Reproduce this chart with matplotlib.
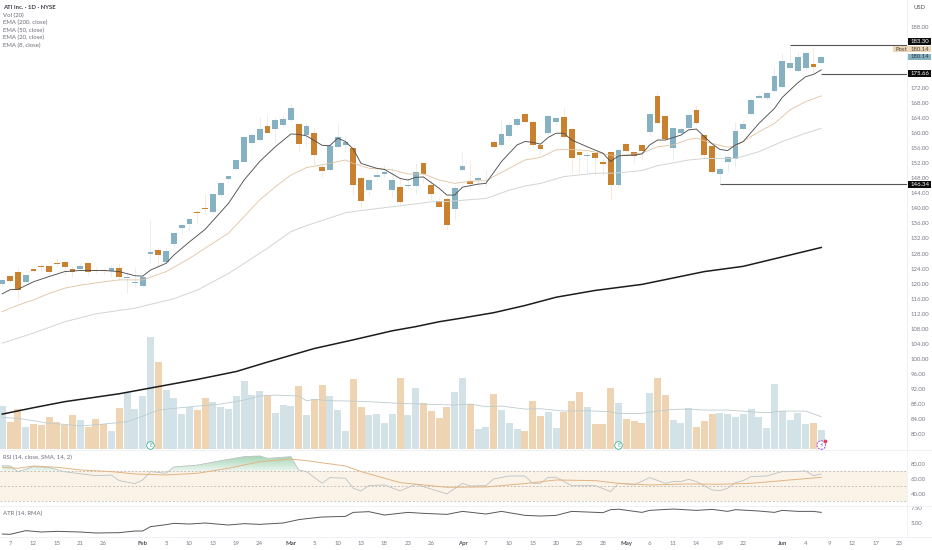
import numpy as np
import matplotlib
matplotlib.use("Agg")
import matplotlib.pyplot as plt
from matplotlib.colors import LinearSegmentedColormap
from matplotlib.patches import Rectangle
from matplotlib.path import Path

W, H = 932, 550

# daily candles
opens = [119.9, 121.9, 123.0, 120.4, 123.9, 124.7, 124.6, 125.6, 125.7, 124.0,
         123.9, 125.6, 123.6, 123.5, 123.4, 124.2, 121.6, 120.3, 119.5, 128.0,
         129.0, 125.8, 130.6, 134.8, 135.9, 139.0, 140.1, 139.1, 143.4, 147.8,
         150.4, 152.4, 157.3, 158.1, 161.7, 161.0, 162.1, 163.3, 162.3, 159.5,
         159.9, 150.9, 150.1, 156.2, 156.9, 156.1, 148.1, 144.8, 148.2, 149.0,
         144.8, 145.7, 145.9, 145.8, 152.0, 146.3, 141.9, 142.4, 139.7, 150.2,
         147.1, 147.4, 147.2, 157.6, 156.8, 159.2, 162.1, 165.0, 162.9, 156.9,
         160.0, 162.9, 164.1, 160.9, 154.9, 153.8, 154.7, 152.4, 155.0, 146.3,
         157.0, 154.8, 156.8, 160.1, 169.8, 164.6, 156.1, 159.9, 161.4, 166.1,
         159.3, 156.5, 149.1, 152.4, 153.0, 161.0, 164.9, 169.3, 169.2, 171.0,
         172.1, 177.3, 176.5, 177.2, 178.3, 178.6]
closes = [120.9, 120.7, 118.4, 122.2, 123.3, 124.3, 123.2, 125.3, 124.3, 123.2,
          124.7, 123.2, 123.4, 123.3, 124.1, 121.8, 121.8, 120.4, 121.8, 128.3,
          127.5, 128.6, 133.5, 135.6, 137.1, 138.8, 139.8, 143.9, 146.7, 148.6,
          152.8, 158.8, 159.3, 161.0, 160.0, 163.5, 163.6, 166.5, 157.0, 161.7,
          154.1, 150.0, 156.6, 159.0, 157.5, 146.1, 141.9, 147.4, 148.7, 149.6,
          147.5, 141.7, 146.3, 149.5, 149.0, 143.9, 140.3, 135.5, 145.4, 151.1,
          146.5, 147.9, 147.3, 156.3, 159.6, 162.2, 163.8, 163.0, 156.9, 155.7,
          164.6, 164.0, 159.0, 153.2, 154.0, 154.2, 153.4, 151.7, 146.2, 155.5,
          155.2, 153.8, 155.3, 165.0, 162.6, 158.3, 161.2, 161.0, 164.7, 162.5,
          154.1, 149.6, 150.4, 153.6, 160.4, 162.4, 168.7, 169.8, 170.5, 175.2,
          179.1, 178.4, 180.0, 181.1, 177.4, 180.1]
highs = [121.3, 122.2, 124.5, 122.4, 124.1, 125.4, 124.9, 127.2, 126.3, 124.7,
         125.4, 125.8, 124.5, 124.1, 124.9, 125.4, 123.2, 124.5, 122.3, 136.9,
         129.8, 129.4, 133.8, 136.0, 137.8, 139.5, 143.9, 144.1, 147.0, 148.8,
         153.0, 159.0, 159.9, 164.3, 164.7, 164.3, 164.7, 167.6, 162.5, 162.5,
         161.6, 151.5, 157.2, 162.5, 159.4, 156.3, 148.8, 147.7, 150.1, 151.5,
         150.6, 148.4, 147.9, 151.9, 152.4, 147.5, 143.1, 143.1, 146.2, 155.0,
         152.8, 148.8, 150.1, 158.1, 163.4, 163.0, 164.3, 165.4, 163.4, 157.7,
         164.9, 164.5, 166.5, 161.2, 155.5, 155.0, 155.0, 153.7, 155.5, 155.6,
         157.7, 155.0, 157.2, 165.6, 170.9, 164.7, 161.5, 161.5, 165.6, 167.4,
         159.4, 156.8, 151.0, 154.1, 163.0, 163.4, 169.2, 170.3, 170.9, 177.6,
         181.1, 183.3, 181.5, 181.5, 182.9, 180.7]
lows = [119.5, 120.4, 115.7, 120.1, 123.0, 123.2, 122.3, 124.5, 122.3, 121.8,
        123.6, 122.3, 122.7, 122.3, 121.8, 121.0, 117.4, 119.2, 119.2, 125.4,
        124.5, 125.4, 129.8, 133.3, 133.8, 136.0, 138.6, 138.6, 143.1, 147.0,
        150.1, 152.3, 156.8, 157.7, 159.9, 157.7, 161.6, 163.0, 155.0, 156.3,
        151.5, 148.4, 150.0, 155.9, 155.0, 143.5, 140.0, 143.5, 147.5, 148.4,
        143.1, 140.9, 145.3, 143.9, 146.6, 142.2, 140.0, 134.2, 136.9, 149.7,
        144.8, 145.7, 145.7, 155.9, 156.3, 158.5, 161.6, 162.5, 156.3, 154.4,
        159.4, 162.1, 158.5, 149.3, 149.3, 149.3, 148.8, 148.8, 142.2, 145.7,
        155.0, 151.9, 152.8, 159.4, 162.4, 157.7, 152.8, 159.0, 160.8, 162.1,
        152.8, 149.3, 146.2, 149.7, 151.0, 160.8, 164.7, 169.2, 168.7, 170.7,
        171.8, 176.7, 176.2, 176.7, 175.8, 178.4]
volumes = [1.30, 0.81, 1.20, 0.68, 0.76, 0.73, 0.97, 0.83, 0.73, 1.04,
           0.88, 0.66, 0.90, 0.77, 0.55, 1.23, 1.70, 1.22, 1.60, 3.36,
           2.61, 1.78, 1.53, 1.06, 1.26, 1.18, 1.55, 1.41, 1.27, 1.20,
           1.60, 2.05, 1.63, 1.75, 1.62, 1.09, 1.32, 1.31, 1.90, 1.03,
           1.50, 1.92, 1.59, 1.18, 0.55, 2.10, 1.27, 1.03, 1.06, 0.80,
           1.06, 2.14, 1.03, 1.85, 1.40, 1.16, 0.94, 1.26, 1.73, 2.14,
           1.37, 0.61, 0.66, 1.67, 1.18, 0.79, 0.60, 0.55, 1.44, 0.99,
           1.12, 0.65, 1.12, 1.44, 1.72, 1.26, 0.76, 0.76, 1.83, 1.40,
           0.92, 0.85, 0.79, 1.69, 2.13, 1.63, 0.88, 0.79, 1.23, 0.68,
           0.85, 1.05, 1.09, 1.05, 0.98, 1.06, 1.20, 0.97, 0.65, 1.95,
           1.14, 0.88, 1.08, 0.75, 0.79, 0.58]

# overlays, each as (bar index, value)
ema8_x = [0, 1, 2, 4, 6, 8, 10, 13, 15, 17, 18, 19, 21, 22, 24, 26, 29, 31, 33, 35, 37, 38, 39,
          41, 42, 43, 44, 45, 46, 48, 49, 51, 52, 53, 54, 56, 57, 58, 59, 61, 62, 64, 66, 67,
          68, 69, 70, 71, 72, 73, 75, 77, 78, 79, 81, 82, 83, 84, 85, 87, 88, 89, 90, 91, 92,
          93, 94, 95, 97, 99, 100, 102, 103, 104, 105]
ema8 = [117.3, 118.4, 118.5, 120.5, 121.9, 123.2, 123.5, 123.5, 123.2, 122.1, 122.0, 123.6,
        125.4, 127.6, 131.1, 134.4, 141.3, 147.5, 152.4, 156.3, 159.7, 159.6, 159.2,
        156.7, 156.6, 158.6, 157.7, 155.7, 151.9, 150.6, 150.3, 147.9, 147.5, 148.2, 148.3,
        145.3, 143.5, 143.5, 145.6, 146.4, 146.6, 152.4, 156.8, 157.7, 157.5, 157.0, 158.8,
        159.9, 159.9, 158.1, 156.3, 154.6, 152.4, 153.9, 154.1, 154.4, 156.8, 158.1, 158.1,
        159.4, 160.8, 161.0, 159.0, 157.1, 155.6, 155.3, 156.8, 157.7, 162.5, 166.5, 169.4,
        173.3, 174.9, 175.5, 176.7]
ema20_x = [0, 2, 4, 6, 8, 10, 13, 15, 18, 21, 24, 26, 29, 31, 33, 35, 37, 39, 41, 44, 45, 47,
           50, 52, 54, 56, 58, 60, 62, 65, 67, 69, 71, 73, 75, 78, 79, 82, 84, 86, 88, 89, 91,
           93, 94, 97, 99, 101, 103, 105]
ema20 = [112.6, 114.3, 115.7, 117.4, 118.8, 119.6, 120.5, 121.0, 121.0, 123.2, 126.7, 129.4,
         133.4, 137.8, 142.2, 145.7, 148.8, 150.8, 151.5, 152.8, 151.9, 150.6, 150.2, 149.1,
         149.1, 147.5, 146.6, 147.2, 147.3, 150.6, 152.8, 153.5, 155.5, 155.6, 155.3, 154.1,
         154.0, 154.6, 156.3, 156.8, 158.3, 158.6, 157.2, 156.2, 156.5, 160.3, 162.5, 166.1,
         168.3, 169.8]
ema50_x = [0, 4, 8, 12, 17, 22, 25, 29, 34, 37, 39, 44, 46, 50, 55, 57, 62, 65, 67, 69, 72, 76,
           78, 79, 82, 84, 88, 90, 94, 97, 100, 103, 105]
ema50 = [104.2, 106.9, 109.9, 112.0, 113.5, 116.0, 118.3, 122.7, 129.4, 133.8, 135.4, 138.8,
         139.4, 140.4, 141.7, 141.8, 142.6, 144.8, 145.9, 146.6, 148.4, 149.3, 149.3, 149.4,
         150.0, 151.3, 152.8, 153.2, 153.2, 155.0, 157.7, 159.9, 161.2]
ema200_x = [0, 4, 8, 15, 20, 25, 30, 34, 37, 40, 45, 50, 53, 56, 59, 63, 67, 71, 76, 82, 86, 90,
            95, 100, 105]
ema200 = [85.4, 87.1, 88.7, 90.8, 92.7, 94.6, 96.7, 99.2, 101.0, 102.8, 105.1, 107.5, 108.6,
          109.9, 110.9, 112.3, 114.2, 116.4, 118.2, 119.8, 121.5, 123.2, 124.6, 127.1, 129.6]
vol_ma_x = [0, 2, 4, 6, 8, 10, 13, 16, 18, 20, 22, 25, 28, 31, 33, 35, 38, 39, 40, 42, 45, 47,
            51, 54, 58, 60, 62, 64, 67, 69, 72, 75, 78, 79, 82, 84, 86, 88, 90, 93, 96, 98,
            100, 103, 105]
vol_ma = [0.96, 0.93, 0.86, 0.78, 0.75, 0.70, 0.76, 0.83, 1.00, 1.18, 1.23, 1.30, 1.36, 1.48,
          1.60, 1.63, 1.60, 1.46, 1.50, 1.46, 1.45, 1.43, 1.38, 1.36, 1.33, 1.36, 1.28, 1.30,
          1.21, 1.22, 1.15, 1.16, 1.13, 1.08, 1.08, 1.15, 1.20, 1.21, 1.18, 1.18, 1.13, 1.10,
          1.15, 1.15, 0.98]

rsi_x = [0, 1, 2, 4, 6, 8, 10, 12, 14, 15, 17, 18, 19, 21, 22, 25, 28, 31, 33, 34, 37, 38, 39,
         41, 42, 44, 45, 46, 47, 49, 51, 53, 57, 59, 60, 62, 63, 65, 67, 68, 69, 70, 71, 73,
         76, 78, 79, 81, 83, 85, 86, 87, 88, 89, 91, 92, 93, 94, 95, 96, 98, 100, 101, 103,
         104, 105]
rsi = [77.7, 77.4, 69.7, 76.4, 75.3, 69.5, 66.8, 64.3, 65.0, 57.5, 53.5, 58.4, 69.7, 67.5, 76.0,
       78.5, 84.5, 89.9, 90.8, 87.6, 89.9, 71.9, 69.7, 53.9, 61.6, 60.7, 47.2, 43.6, 50.8, 51.7,
       43.6, 52.6, 39.6, 53.9, 50.3, 50.8, 59.8, 63.8, 63.8, 53.9, 53.9, 62.0, 62.0, 50.8, 50.8,
       42.7, 53.9, 51.7, 61.6, 53.9, 56.2, 56.2, 59.3, 56.2, 44.9, 44.0, 47.2, 54.8, 57.5, 62.9,
       63.8, 69.7, 69.7, 70.6, 64.3, 66.5]
rsi_ma_x = [0, 2, 4, 7, 10, 14, 17, 21, 25, 29, 33, 37, 39, 44, 46, 51, 54, 57, 62, 67, 71, 76,
            79, 83, 88, 92, 96, 101, 105]
rsi_ma = [75.5, 74.2, 77.3, 75.5, 71.9, 69.7, 66.5, 65.2, 67.4, 74.2, 83.1, 86.7, 84.5, 77.3,
          69.7, 54.8, 51.7, 48.5, 49.0, 53.5, 58.4, 57.5, 53.9, 51.7, 53.0, 52.6, 53.9, 58.4, 62.0]
atr_x = [0, 1, 3, 5, 7, 10, 12, 15, 17, 18, 19, 21, 22, 24, 26, 29, 31, 33, 36, 38, 39, 41, 44,
         45, 47, 49, 52, 54, 57, 59, 62, 64, 67, 69, 71, 73, 77, 78, 79, 82, 83, 86, 89, 91, 93,
         94, 97, 99, 100, 102, 104, 105]
atr = [3.08, 3.02, 3.65, 3.42, 3.53, 3.42, 3.25, 3.31, 3.59, 3.59, 4.33, 4.67, 4.89, 4.78, 4.95,
       4.61, 4.84, 4.72, 4.95, 5.52, 5.69, 5.97, 6.08, 6.76, 6.88, 6.31, 6.76, 6.59, 6.42, 6.93,
       6.48, 6.93, 6.25, 6.14, 6.25, 6.93, 6.71, 7.22, 7.30, 6.76, 7.10, 7.33, 7.10, 7.27, 6.93,
       7.22, 6.99, 6.76, 7.10, 6.93, 6.93, 6.76]

# axis labels
date_ticks = [1, 4, 7, 10, 13, 18, 21, 24, 27, 30, 33, 37, 40, 43, 46, 49, 52, 55, 59, 62, 65, 68,
              71, 74, 77, 80, 83, 86, 89, 92, 95, 100, 103, 106, 109, 112, 115]
date_labels = ["7", "12", "15", "21", "26", "Feb", "5", "10", "13", "19", "24", "Mar", "5", "10",
               "13", "18", "23", "26", "Apr", "7", "10", "15", "20", "23", "28", "May", "6", "11",
               "14", "19", "22", "Jun", "4", "9", "12", "17", "23"]
price_ticks = list(range(80, 189, 4))
earnings_bars = [19, 79]
legend_lines = ["Vol (20)", "EMA (200, close)", "EMA (50, close)", "EMA (20, close)", "EMA (8, close)"]
day_high, day_low, last_price, ref_level = 183.30, 146.34, 180.14, 175.66
day_high_bar, day_low_bar, ref_bar = 101, 92, 105

UP = "#86b1c3"
DOWN = "#c9802f"
UP_WICK = "#e6eff2"
DOWN_WICK = "#f7eadb"
UP_VOL = "#d2e2e7"
DOWN_VOL = "#eed4b3"
TICK_COL = "#787b86"
GRID_COL = "#eef0f4"
FS = 4.3

plt.rcParams["font.family"] = ["Lato", "DejaVu Sans"]
plt.rcParams["font.size"] = FS


def panel(top, bottom, right=907):
    # axes placed by pixel edges of the 932x550 canvas
    return fig.add_axes([0, 1 - bottom / H, right / W, (bottom - top) / H])


def setup(ax, ylim):
    ax.set_xlim(-0.295, 115.99)
    ax.set_ylim(*ylim)
    ax.patch.set_visible(False)
    ax.set_xticks([])
    for s in ["top", "left", "bottom"]:
        ax.spines[s].set_visible(False)
    ax.spines["right"].set_color(GRID_COL)
    ax.spines["right"].set_linewidth(0.6)
    ax.yaxis.tick_right()
    ax.tick_params(axis="y", length=0, pad=2.9, labelsize=FS, labelcolor=TICK_COL)


fig = plt.figure(figsize=(W / 100, H / 100), dpi=100, facecolor="white")

opens, closes, highs, lows = map(np.array, (opens, closes, highs, lows))
x = np.arange(len(opens))
is_up = closes >= opens

# volume pane shares the price pane's space
ax_vol = panel(0, 450)
ax_vol.set_zorder(1)
setup(ax_vol, (-0.018, 13.48))
ax_vol.set_yticks([])
ax_vol.bar(x, volumes, width=0.88, color=[UP_VOL if u else DOWN_VOL for u in is_up])
ax_vol.plot(vol_ma_x, vol_ma, color="#bccccf", lw=0.6)
ax_vol.scatter(earnings_bars, [0.13] * len(earnings_bars), s=30, marker="o", facecolor="white",
               edgecolor="#3fae95", linewidth=0.6, zorder=4)
for b in earnings_bars:
    ax_vol.text(b, 0.13, "E", color="#3fae95", fontsize=3.6, ha="center", va="center", zorder=5)
ax_vol.scatter([105], [0.13], s=38, marker="o", facecolor="white", edgecolor="#9b4fe0",
               linewidth=0.7, linestyle=(0, (2, 1)), zorder=4)
ax_vol.text(105, 0.13, "\u26a1", color="#9b4fe0", fontsize=4, ha="center", va="center", zorder=5,
            family="DejaVu Sans")
ax_vol.scatter([105.5], [0.25], s=3, color="#e0435a", zorder=6)

# price pane
ax = panel(0, 450)
ax.set_zorder(2)
setup(ax, (75.88, 195.24))
ax.set_yticks(price_ticks)
ax.set_yticklabels([f"{p:.2f}" for p in price_ticks])
ax.vlines(x, lows, highs, colors=[UP_WICK if u else DOWN_WICK for u in is_up], lw=0.7, zorder=1)
ax.bar(x, np.maximum(np.abs(closes - opens), 0.15), bottom=np.minimum(opens, closes), width=0.76,
       color=[UP if u else DOWN for u in is_up], zorder=2)
ax.plot(ema50_x, ema50, color="#d0d6d3", lw=0.7, zorder=3)
ax.plot(ema20_x, ema20, color="#e0c29e", lw=0.6, zorder=3)
ax.plot(ema200_x, ema200, color="#1c1c1c", lw=1.1, zorder=3)
ax.plot(ema8_x, ema8, color="#505050", lw=0.65, zorder=4)
for level, start in [(day_high, day_high_bar), (ref_level, ref_bar), (day_low, day_low_bar)]:
    ax.hlines(level, start, 115.99, color="#555555", lw=0.8, zorder=4)

# RSI pane
ax_rsi = panel(450, 505.5)
setup(ax_rsi, (23.9, 98.9))
ax_rsi.set_yticks([40, 60, 80])
ax_rsi.set_yticklabels(["40.00", "60.00", "80.00"])
ax_rsi.axhspan(30, 70, color="#fbf2e8", lw=0)
for level in (30, 50, 70):
    ax_rsi.axhline(level, color="#a8a49c", lw=0.45, ls=(0, (3, 3)))
rx = np.array(rsi_x, dtype=float)
ry = np.array(rsi)
green = ax_rsi.fill_between(rx, ry, 70, where=ry > 70, interpolate=True, color="none")
grad = ax_rsi.imshow(np.linspace(0, 1, 32).reshape(-1, 1),
                     cmap=LinearSegmentedColormap.from_list("rsi_green", ["#9fd2ae", "#eaf5ee"]),
                     extent=(0, 105, 70, 92), aspect="auto", origin="upper", zorder=2)
grad.set_clip_path(Path.make_compound_path(*green.get_paths()), transform=ax_rsi.transData)
setup(ax_rsi, (23.9, 98.9))
ax_rsi.plot(rsi_x, rsi, color="#bcc3c4", lw=0.6, zorder=3)
ax_rsi.plot(rsi_ma_x, rsi_ma, color="#e2b483", lw=0.7, zorder=4)

# ATR pane with the dates under it
ax_atr = panel(505.5, 537)
setup(ax_atr, (2.57, 7.93))
ax_atr.set_yticks([5, 7.5])
ax_atr.set_yticklabels(["5.00", "7.50"])
ax_atr.plot(atr_x, atr, color="#55585c", lw=0.7)
ax_atr.set_xticks(date_ticks)
ax_atr.set_xticklabels(date_labels)
ax_atr.tick_params(axis="x", length=0, pad=3.2, labelsize=FS, labelcolor=TICK_COL)
for lab in ax_atr.get_xticklabels():
    if lab.get_text().isalpha():
        lab.set_fontweight("bold")
        lab.set_color("#50535e")

# pixel overlay for pane separators, price tags and the legend text
ov = fig.add_axes([0, 0, 1, 1])
ov.set_xlim(0, W)
ov.set_ylim(H, 0)
ov.axis("off")
ov.set_zorder(5)
for y in (450, 505.5, 537):
    ov.axhline(y, color=GRID_COL, lw=0.6)


def price_y(price):
    return ov.transData.inverted().transform(ax.transData.transform((0, price)))[1]


def tag(price, face, text_col="white", dy=0.0, left=907.5, right=931, label=None):
    yc = price_y(price) + dy
    ov.add_patch(Rectangle((left, yc - 3.4), right - left, 6.8, facecolor=face, edgecolor="none"))
    ov.text(911, yc, f"{price:.2f}", color=text_col, fontsize=FS, va="center", ha="left")
    if label:
        ov.text(left + 2, yc, label, color=text_col, fontsize=FS, va="center", ha="left")


tag(day_high, "#0c0c0c", dy=-3.8)
tag(last_price, "#ecd6b8", text_col="#50443a", dy=-7.9, left=893, label="Post")
tag(last_price, UP, text_col="#2c3c44", dy=0.0)
tag(ref_level, "#0c0c0c")
tag(day_low, "#0c0c0c")

ov.text(3, 7.2, "ATI Inc. \u00b7 1D \u00b7 NYSE", color="#3a3d46", fontsize=FS, fontweight="bold", va="center")
for k, line in enumerate(legend_lines):
    ov.text(3, 15 + k * 7.65, line, color="#6a6d78", fontsize=FS, va="center")
ov.text(3, 457.5, "RSI (14, close, SMA, 14, 2)", color="#6a6d78", fontsize=FS, va="center")
ov.text(3, 513.5, "ATR (14, RMA)", color="#6a6d78", fontsize=FS, va="center")
ov.text(913, 7.2, "USD", color="#50535e", fontsize=FS, va="center")

fig.savefig("out.png", dpi=100)
plt.close(fig)
